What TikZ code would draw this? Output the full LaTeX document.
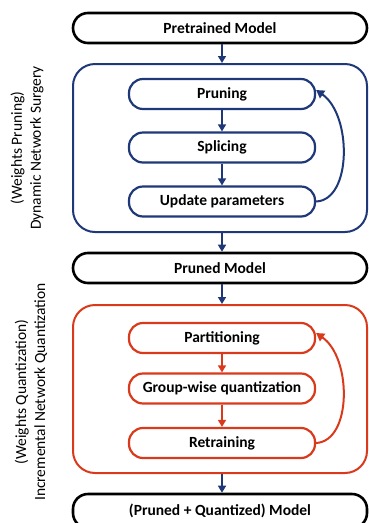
\documentclass[tikz,border=0pt]{standalone}
\usepackage{fontspec}
\setmainfont{Carlito}
\usetikzlibrary{arrows.meta}
\definecolor{navy}{RGB}{31,56,120}
\definecolor{rust}{RGB}{218,58,28}

\begin{document}
\begin{tikzpicture}[x=1pt,y=-1pt,
  label/.style={font=\fontsize{15.5}{18}\selectfont\bfseries, inner sep=0pt},
  model/.style={label, draw=black, line width=2.6pt, rounded corners=15pt,
    minimum width=294pt, minimum height=30pt},
  stage/.style={label, draw=#1, line width=2.2pt, rounded corners=14pt,
    minimum width=186pt, minimum height=30pt},
  group/.style={draw=#1, line width=2pt, rounded corners=22pt,
    minimum width=294pt, minimum height=168pt, inner sep=0pt},
  side/.style={rotate=90, align=center, inner sep=0pt,
    font=\fontsize{15.5}{19}\selectfont},
  flow/.style={draw=#1, line width=1.6pt, -{Triangle[width=8pt,length=7pt]}},
  loop/.style={draw=#1, line width=2pt, -{Triangle[width=9pt,length=8pt]}},
]
\useasboundingbox (0,0) rectangle (369,523);
\clip (0,0) rectangle (369,523);

% main pipeline
\node[model] (pre) at (220,28) {Pretrained Model};

\node[group=navy] (dns) at (220,148) {};
\node[stage=navy] (prune)  at (222,94)    {Pruning};
\node[stage=navy] (splice) at (222,147.5) {Splicing};
\node[stage=navy] (update) at (222,201.5) {Update parameters};

\node[model] (pruned) at (220,268) {Pruned Model};

\node[group=rust] (inq) at (220,389) {};
\node[stage=rust] (part)    at (222,338)   {Partitioning};
\node[stage=rust] (gq)      at (222,388.5) {Group-wise quantization};
\node[stage=rust] (retrain) at (222,443)   {Retraining};

\node[model, minimum height=34pt] (final) at (220,511) {(Pruned + Quantized) Model};

% side captions
\node[side] (capA) at (27,148) {(Weights Pruning)\\Dynamic Network Surgery};
\node[side] (capB) at (31,392) {(Weights Quantization)\\Incremental Network Quantization};

% connectors between stages
\draw[flow=navy] (pre.south -| prune) -- (dns.north -| prune);
\draw[flow=navy] (prune) -- (splice);
\draw[flow=navy] (splice) -- (update);
\draw[flow=navy] (dns.south -| prune) -- (pruned.north -| prune);
\draw[flow=navy] (pruned.south -| prune) -- (inq.north -| prune);
\draw[flow=rust] (part) -- (gq);
\draw[flow=rust] (gq) -- (retrain);
\draw[flow=navy] (inq.south -| prune) -- (final.north -| prune);

% feedback loops
\draw[loop=navy] (update.east) .. controls (352,200) and (352,115) .. ([yshift=4pt]prune.east);
\draw[loop=rust] (retrain.east) .. controls (352,441) and (352,358) .. ([yshift=5pt]part.east);
\end{tikzpicture}
\end{document}
